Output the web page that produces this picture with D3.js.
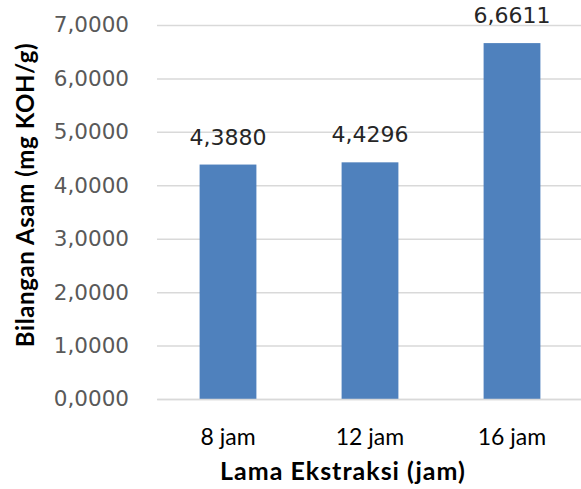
<!DOCTYPE html>
<html>
<head>
<meta charset="utf-8">
<script src="https://cdn.jsdelivr.net/npm/d3@7"></script>
<style>
  body { margin: 0; background: #fff; }
</style>
</head>
<body>
<div id="chart"></div>
<script>
"use strict";

// data
const categories = ["8 jam", "12 jam", "16 jam"];
const values = [4.3880, 4.4296, 6.6611];
const valueLabels = ["4,3880", "4,4296", "6,6611"];
const yTicks = [0, 1, 2, 3, 4, 5, 6, 7];

const W = 581, H = 489;
const margin = {top: 25, right: 0, bottom: 90, left: 157};
const width = 583 - margin.left,
      height = 399 - margin.top;

const svg = d3.select("#chart")
    .append("svg")
    .attr("width", W)
    .attr("height", H);

const g = svg.append("g")
    .attr("transform", `translate(${margin.left}, ${margin.top})`);

const x = d3.scaleBand()
    .domain(categories)
    .range([0, width])
    .paddingInner(0.6)
    .paddingOuter(0.3);

const y = d3.scaleLinear()
    .domain([0, 7])
    .range([height, 0]);

const fmt = d => d.toFixed(4).replace(".", ",");

// gridlines + y tick labels
const yAxis = g.append("g")
    .call(d3.axisLeft(y).tickValues(yTicks).tickSize(-width).tickFormat(fmt).tickPadding(28));
yAxis.select(".domain").remove();
yAxis.selectAll("line").attr("stroke", "#d9d9d9").attr("stroke-width", 1.5);
yAxis.selectAll("text")
    .attr("font-family", "'DejaVu Sans', Verdana, sans-serif")
    .attr("font-size", 21.5)
    .attr("fill", "#595959");

// bars
g.selectAll("rect.bar")
    .data(values)
    .enter().append("rect")
    .attr("class", "bar")
    .attr("x", (d, i) => x(categories[i]))
    .attr("y", d => y(d))
    .attr("width", x.bandwidth())
    .attr("height", d => height - y(d))
    .attr("fill", "#4f81bd");

// value labels
g.selectAll("text.val")
    .data(values)
    .enter().append("text")
    .attr("class", "val")
    .attr("x", (d, i) => x(categories[i]) + x.bandwidth() / 2)
    .attr("y", d => y(d) - 20)
    .attr("text-anchor", "middle")
    .attr("font-family", "'DejaVu Sans', Verdana, sans-serif")
    .attr("font-size", 22)
    .attr("fill", "#262626")
    .text((d, i) => valueLabels[i]);

// x axis
const xAxis = g.append("g")
    .attr("transform", `translate(0, ${height})`)
    .call(d3.axisBottom(x).tickSize(0).tickPadding(30));
xAxis.select(".domain").attr("stroke", "#d9d9d9").attr("stroke-width", 1.5);
xAxis.selectAll("text")
    .attr("font-family", "Lato, 'Open Sans', sans-serif")
    .attr("font-size", 23)
    .attr("fill", "#000");

// axis titles
svg.append("text")
    .attr("x", 343)
    .attr("y", 480)
    .attr("text-anchor", "middle")
    .attr("font-family", "Lato, 'Open Sans', sans-serif")
    .attr("font-weight", "bold")
    .attr("font-size", 25)
    .attr("letter-spacing", 1)
    .attr("fill", "#000")
    .text("Lama Ekstraksi (jam)");

svg.append("text")
    .attr("transform", "translate(34, 195) rotate(-90)")
    .attr("text-anchor", "middle")
    .attr("font-family", "Lato, 'Open Sans', sans-serif")
    .attr("font-weight", "bold")
    .attr("font-size", 24)
    .attr("letter-spacing", 0.6)
    .attr("fill", "#000")
    .text("Bilangan Asam (mg KOH/g)");
</script>
</body>
</html>
